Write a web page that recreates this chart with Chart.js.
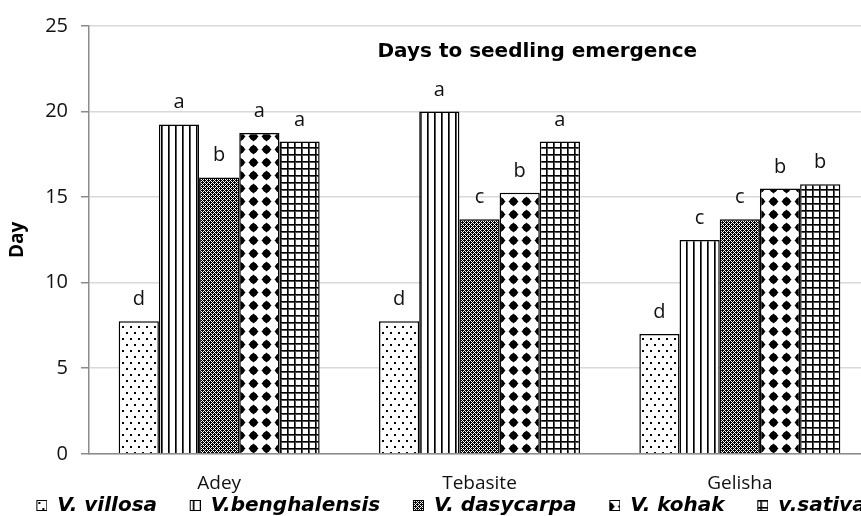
<!DOCTYPE html>
<html>
<head>
<meta charset="utf-8">
<script src="https://cdn.jsdelivr.net/npm/chart.js"></script>
<style>
  html, body { margin: 0; padding: 0; overflow: hidden; background: #fff; }
  #wrap { width: 872px; height: 516px; }
</style>
</head>
<body>
<div id="wrap"><canvas id="grafico" width="872" height="516"></canvas></div>
<script>
// ================== DATOS ==================
const sitios = ["Adey", "Tebasite", "Gelisha"];
const especies = ["V. villosa", "V.benghalensis", "V. dasycarpa", "V. kohak", "v.sativa"];

// días hasta la emergencia (por sitio)
const villosa      = [7.75, 7.75, 7.0];
const benghalensis = [19.25, 20.0, 12.5];
const dasycarpa    = [16.15, 13.7, 13.7];
const kohak        = [18.75, 15.25, 15.5];
const sativa       = [18.25, 18.25, 15.75];

// letras de significancia encima de cada barra
const letrasVillosa      = ["d", "d", "d"];
const letrasBenghalensis = ["a", "a", "c"];
const letrasDasycarpa    = ["b", "c", "c"];
const letrasKohak        = ["a", "b", "b"];
const letrasSativa       = ["a", "a", "b"];

const yTicks = [0, 5, 10, 15, 20, 25];
const titulo = "Days to seedling emergence";
const tituloEje = "Day";

const fuente = "'Open Sans', 'DejaVu Sans', sans-serif";
const fuenteAncha = "'DejaVu Sans', sans-serif";

// ================== PATRONES ==================
const ctx = document.getElementById("grafico").getContext("2d");

// crea el azulejo (tile) de cada trama
function azulejo(w, h, dibujar) {
  const c = document.createElement("canvas");
  c.width = w; c.height = h;
  const g = c.getContext("2d");
  g.fillStyle = "#fff";
  g.fillRect(0, 0, w, h);
  g.fillStyle = "#000";
  dibujar(g, w, h);
  return c;
}

// puntos dispersos
const tilePuntos = azulejo(8, 12, g => {
  g.fillRect(2, 2, 2, 2);
  g.fillRect(6, 8, 2, 2);
});
// rayas verticales
const tileRayas = azulejo(7, 4, g => {
  g.fillRect(0, 0, 1, 4);
  g.fillStyle = "#555";
  g.fillRect(1, 0, 1, 4);
});
// trama densa oscura
const tileDenso = azulejo(4, 4, g => {
  for (let x = 0; x < 4; x++) {
    for (let y = 0; y < 4; y++) {
      if ((x + y) % 2 === 1) g.fillRect(x, y, 1, 1);
    }
  }
  g.fillRect(0, 0, 1, 1);
  g.fillRect(2, 2, 1, 1);
});
// rombos negros
const tileRombos = azulejo(13, 13, g => {
  g.beginPath();
  g.moveTo(6.5, 1.5); g.lineTo(11.5, 6.5); g.lineTo(6.5, 11.5); g.lineTo(1.5, 6.5);
  g.closePath();
  g.fill();
  g.beginPath();
  g.arc(6.5, 6.5, 3.7, 0, Math.PI * 2);
  g.fill();
});
// cuadrícula
const tileCuadros = azulejo(7, 7, g => {
  g.fillRect(0, 0, 7, 1);
  g.fillRect(0, 0, 1, 7);
  g.fillStyle = "#555";
  g.fillRect(1, 1, 6, 1);
  g.fillRect(1, 1, 1, 6);
});

const tiles = [tilePuntos, tileRayas, tileDenso, tileRombos, tileCuadros];
const patrones = tiles.map(t => ctx.createPattern(t, "repeat"));
const series = [villosa, benghalensis, dasycarpa, kohak, sativa];
const letras = [letrasVillosa, letrasBenghalensis, letrasDasycarpa, letrasKohak, letrasSativa];

// muestra para la leyenda: hueco a la izquierda + cuadradito con trama
const huecoLeyenda = 32;
const ladoMuestra = 11;
function muestraLeyenda(tile) {
  const c = document.createElement("canvas");
  c.width = huecoLeyenda + ladoMuestra;
  c.height = ladoMuestra;
  const g = c.getContext("2d");
  g.fillStyle = g.createPattern(tile, "repeat");
  g.fillRect(huecoLeyenda, 0, ladoMuestra, ladoMuestra);
  g.strokeStyle = "#000";
  g.lineWidth = 1;
  g.strokeRect(huecoLeyenda + 0.5, 0.5, ladoMuestra - 1, ladoMuestra - 1);
  return c;
}
const muestras = tiles.map(muestraLeyenda);

// ================== PLUGINS ==================
const pluginLetras = {
  id: "letras",
  afterDatasetsDraw(chart) {
    const c = chart.ctx;
    c.save();
    c.font = "20px " + fuente;
    c.fillStyle = "#111";
    c.textAlign = "center";
    c.textBaseline = "alphabetic";
    chart.data.datasets.forEach((ds, i) => {
      chart.getDatasetMeta(i).data.forEach((bar, j) => {
        c.fillText(letras[i][j], bar.x, bar.y - 16);
      });
    });
    c.restore();
  }
};

const pluginTitulo = {
  id: "tituloInterno",
  afterDraw(chart) {
    const a = chart.chartArea;
    const c = chart.ctx;
    c.save();
    c.font = "bold 20px " + fuenteAncha;
    c.fillStyle = "#000";
    c.textAlign = "center";
    c.textBaseline = "middle";
    c.fillText(titulo, a.left + (a.right - a.left) * 0.574, 52);
    c.restore();
  }
};

// ================== GRÁFICO ==================
const grafico = new Chart(ctx, {
  type: "bar",
  data: {
    labels: sitios,
    datasets: especies.map((nombre, i) => ({
      label: nombre,
      data: series[i],
      backgroundColor: patrones[i],
      borderColor: "#000",
      borderWidth: 1.5,
      categoryPercentage: 0.772,
      barPercentage: 1
    }))
  },
  options: {
    responsive: false,
    animation: false,
    layout: { padding: { left: 0, right: 2, top: 26, bottom: -9.5 } },
    scales: {
      x: {
        grid: { display: false, drawTicks: false },
        border: { color: "#8c8c8c", width: 1.5 },
        ticks: { color: "#111", font: { family: fuente, size: 19 }, padding: 18 },
        afterFit: s => { s.height = 41; }
      },
      y: {
        min: 0,
        max: 25,
        afterBuildTicks: s => { s.ticks = yTicks.map(v => ({ value: v })); },
        ticks: { color: "#111", font: { family: fuente, size: 20 }, padding: 13 },
        grid: { color: "#d9d9d9", lineWidth: 1.5, tickLength: 8, tickColor: "#8c8c8c" },
        border: { color: "#8c8c8c", width: 1.5 },
        title: {
          display: true,
          text: tituloEje,
          color: "#000",
          font: { family: fuente, size: 19, weight: "bold" },
          padding: { top: 6, bottom: 0 }
        },
        afterFit: s => { s.width = 89; }
      }
    },
    plugins: {
      legend: {
        position: "bottom",
        labels: {
          color: "#000",
          font: { family: fuenteAncha, size: 20, style: "italic", weight: "bold" },
          usePointStyle: true,
          pointStyleWidth: huecoLeyenda + ladoMuestra,
          boxHeight: ladoMuestra,
          padding: 0.7,
          generateLabels: chart => chart.data.datasets.map((ds, i) => ({
            text: ds.label,
            fontColor: "#000",
            fillStyle: patrones[i],
            strokeStyle: "#000",
            lineWidth: 1,
            pointStyle: muestras[i],
            hidden: false,
            datasetIndex: i
          }))
        }
      },
      tooltip: { enabled: false }
    }
  },
  plugins: [pluginLetras, pluginTitulo]
});
</script>
</body>
</html>
